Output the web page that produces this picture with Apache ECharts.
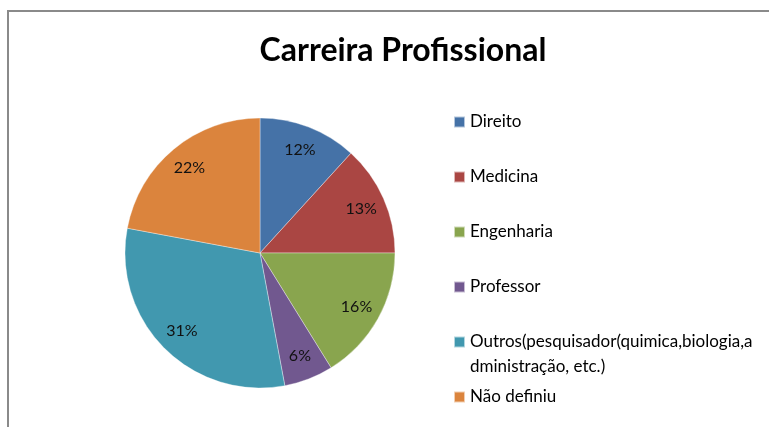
<!DOCTYPE html>
<html>
<head>
<meta charset="utf-8">
<script src="https://cdn.jsdelivr.net/npm/echarts@6/dist/echarts.min.js"></script>
<style>
  html, body { margin: 0; padding: 0; background: #fff; }
  #chart { width: 769px; height: 427px; }
</style>
</head>
<body>
<div id="chart"></div>
<script>
// dados
var categorias = ['Direito', 'Medicina', 'Engenharia', 'Professor',
  'Outros(pesquisador(quimica,biologia,administração, etc.)', 'Não definiu'];
var contagens = [8, 9, 11, 4, 21, 15];
var cores = ['#4572A7', '#AA4643', '#89A54E', '#71588F', '#4198AF', '#DB843D'];
var quebra = 37; // onde o texto de "Outros" quebra a linha

var dados = categorias.map(function (c, i) {
  return { name: c, value: contagens[i] };
});

var myChart = echarts.init(document.getElementById('chart'));
var fonte = 'Lato, "Open Sans", sans-serif';

// estilo comum das legendas
function legenda(nomes, top, extra) {
  var leg = {
    orient: 'vertical',
    left: 453,
    top: top,
    padding: 0,
    itemWidth: 11,
    itemHeight: 11,
    itemGap: 35,
    icon: 'rect',
    selectedMode: false,
    data: nomes,
    textStyle: { fontFamily: fonte, fontSize: 17, color: '#000', lineHeight: 20 }
  };
  return Object.assign(leg, extra || {});
}

var option = {
  backgroundColor: '#fff',
  animation: false,
  color: cores,
  title: {
    text: 'Carreira Profissional',
    left: 398,
    textAlign: 'center',
    top: 30,
    textStyle: { fontFamily: fonte, fontSize: 32, fontWeight: 'bold', color: '#000' }
  },
  legend: [
    legenda(categorias.slice(0, 4), 112),
    legenda([categorias[4]], 332, {
      formatter: function (name) {
        return name.slice(0, quebra);
      }
    }),
    legenda([categorias[5]], 387)
  ],
  graphic: [
    {
      type: 'polyline',
      shape: { points: [[8, 427], [8, 11], [769, 11]] },
      style: { stroke: '#8a8a8a', lineWidth: 2, fill: null },
      silent: true
    },
    {
      // segunda linha do texto de "Outros"
      type: 'text',
      left: 470,
      top: 358,
      style: {
        text: categorias[4].slice(quebra),
        font: '17px ' + fonte,
        fill: '#000'
      },
      silent: true
    }
  ],
  series: [
    {
      type: 'pie',
      center: [260, 253],
      radius: [0, 135],
      startAngle: 90,
      clockwise: true,
      data: dados,
      label: { show: false },
      labelLine: { show: false },
      itemStyle: { borderColor: 'rgba(255,255,255,0.6)', borderWidth: 0.6 },
      emphasis: { disabled: true }
    },
    {
      // so os rotulos, numa coroa transparente
      type: 'pie',
      center: [260, 253],
      radius: [80, 135],
      startAngle: 90,
      clockwise: true,
      silent: true,
      data: dados,
      itemStyle: { color: 'rgba(0,0,0,0)' },
      label: {
        show: true,
        position: 'inside',
        fontFamily: fonte,
        fontSize: 16,
        color: '#111',
        formatter: function (p) {
          return Math.round(p.percent) + '%';
        }
      },
      labelLine: { show: false },
      emphasis: { disabled: true }
    }
  ]
};
myChart.setOption(option);
</script>
</body>
</html>
